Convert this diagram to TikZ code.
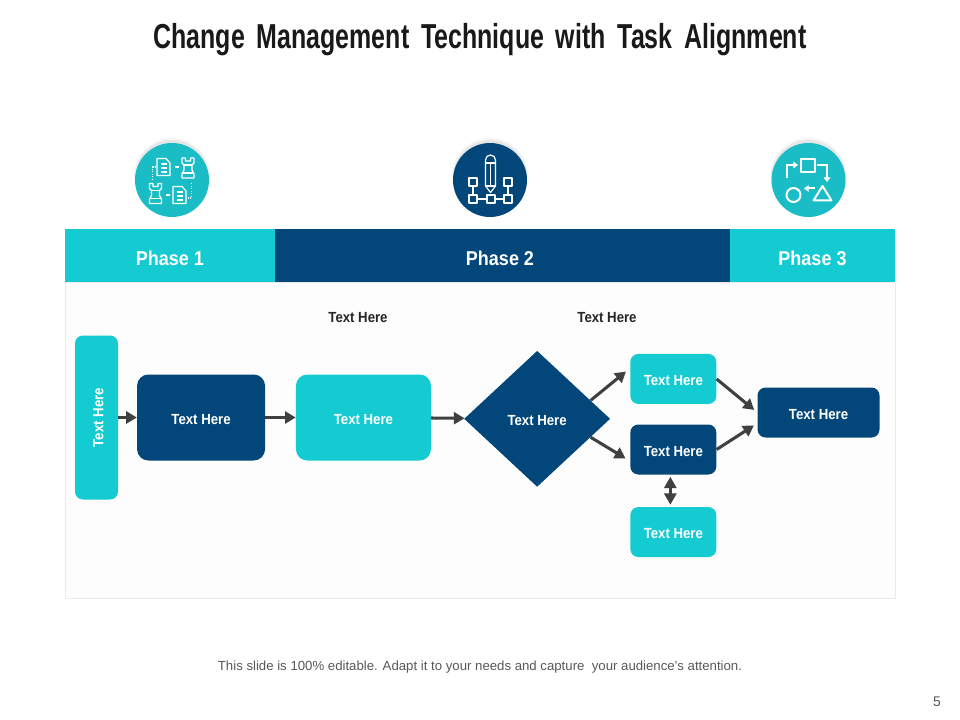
\documentclass[tikz,border=0pt]{standalone}
\usepackage{fontspec}
\setmainfont{Liberation Sans}
\newfontfamily\condfont[FakeStretch=0.9]{Liberation Sans}
\newfontfamily\titlefont[FakeStretch=0.72,WordSpace=1.7]{Liberation Sans}
\usetikzlibrary{positioning,arrows.meta,shapes.geometric,patterns}
\definecolor{phaseteal}{HTML}{13CBD1}
\definecolor{phasenavy}{HTML}{03477A}
\definecolor{iconteal}{HTML}{1ABCC6}
\definecolor{arrowgray}{HTML}{404040}
% one reference pixel is 0.75pt here
\begin{document}
\begin{tikzpicture}[
    x=0.75pt, y=-0.75pt,
    band/.style={
        rectangle, inner sep=0pt, outer sep=0pt, minimum height=39.75pt,
        text height=15.6pt, text depth=0pt,
        text=white, font=\condfont\fontsize{15}{16}\selectfont\bfseries
    },
    tealbox/.style={
        rectangle, fill=phaseteal, rounded corners=6pt, text=white, inner sep=0pt,
        text height=10pt, text depth=0.2pt,
        align=center, font=\condfont\fontsize{11}{12}\selectfont\bfseries
    },
    navybox/.style={tealbox, fill=phasenavy},
    smallbox/.style={minimum width=64.5pt, minimum height=37.5pt},
    bigbox/.style={minimum height=64.5pt, rounded corners=8.5pt},
    caption/.style={font=\condfont\fontsize{11}{12}\selectfont\bfseries, text=black!85},
    arrow/.style={-{Triangle[length=8pt,width=9pt]}, line width=2.3pt, arrowgray},
    bothways/.style={{Triangle[length=8.5pt,width=9pt]}-{Triangle[length=8.5pt,width=9pt]}, line width=2.3pt, arrowgray},
    iconcircle/.style={circle, minimum size=55.5pt, inner sep=0pt},
    iconline/.style={white, line width=0.9pt, line join=round},
    iconfat/.style={white, line width=1.5pt, line join=round},
    iconhead/.style={white, line width=1.5pt, -{Triangle[length=3.5pt,width=5pt]}}
]
\useasboundingbox (0,0) rectangle (960,720);
\fill[white] (0,0) rectangle (960,720);

\node[font=\titlefont\fontsize{26}{28}\selectfont\bfseries, text=black!90] (title) at (480,39.5) {Change Management Technique with Task Alignment};

% panel and phase band
\node[rectangle, draw=black!8, pattern=crosshatch dots, pattern color=black!5, minimum width=622.5pt, minimum height=237pt, inner sep=0pt] (panel) at (480,440) {};
\node[band, fill=phaseteal, minimum width=157.5pt] (phaseone) at (170,255.5) {Phase 1};
\node[band, fill=phasenavy, minimum width=341.25pt, right=0pt of phaseone] (phasetwo) {\hspace*{-3.75pt}Phase 2};
\node[band, fill=phaseteal, minimum width=123.75pt, right=0pt of phasetwo] (phasethree) {Phase 3};

% icon circles
\foreach \cx in {172,490,808.5} {
    \fill[black, opacity=0.04] (\cx,176) circle[radius=38];
    \fill[black, opacity=0.06] (\cx,177) circle[radius=37];
}
\node[iconcircle, fill=iconteal] (iconone) at (172,180) {};
\node[iconcircle, fill=phasenavy] (icontwo) at (490,180) {};
\node[iconcircle, fill=iconteal] (iconthree) at (808.5,180) {};

% icon 1, documents and towers
\foreach \dx/\dy in {163.5/167, 179.5/195} {
    \draw[iconline] (\dx-6.5,\dy-8.5) -- (\dx+2.5,\dy-8.5) -- (\dx+6.5,\dy-4) -- (\dx+6.5,\dy+8.5) -- (\dx-6.5,\dy+8.5) -- cycle;
    \draw[iconline] (\dx-3,\dy-3) -- (\dx+3,\dy-3) (\dx-3,\dy+1) -- (\dx+3,\dy+1) (\dx-3,\dy+5) -- (\dx+3,\dy+5);
}
\foreach \rx/\ry in {188/168, 155.5/193.5} {
    \draw[iconline] (\rx-6,\ry-10) -- (\rx-6,\ry-5) -- (\rx-4,\ry-3) -- (\rx-4,\ry+2) -- (\rx-6,\ry+6) -- (\rx-6,\ry+10) -- (\rx+6,\ry+10) -- (\rx+6,\ry+6) -- (\rx+4,\ry+2) -- (\rx+4,\ry-3) -- (\rx+6,\ry-5) -- (\rx+6,\ry-10) -- (\rx+2.5,\ry-10) -- (\rx+2.5,\ry-7) -- (\rx-2.5,\ry-7) -- (\rx-2.5,\ry-10) -- cycle;
    \draw[iconline] (\rx-4,\ry-3) -- (\rx+4,\ry-3) (\rx-5,\ry+5) -- (\rx+5,\ry+5);
}
\draw[iconline] (175,167) -- (179,167) (165.5,195) -- (170,195);
\draw[iconline, densely dotted] (156,167) -- (152.5,167) -- (152.5,180);
\draw[iconline, densely dotted] (191.5,183) -- (191.5,198) -- (187,198);

% icon 2, pencil over a small tree
\draw[iconline] (485.5,186) -- (485.5,160) arc[start angle=180, end angle=360, radius=5] -- (495.5,186) -- (490.5,192.5) -- cycle;
\draw[iconline] (485.5,163) -- (495.5,163) (490.5,163) -- (490.5,186) (485.5,186) -- (495.5,186);
\foreach \sx/\sy in {473/182, 508/182, 473/199, 491/199, 508/199} {
    \draw[iconline] (\sx-4,\sy-4) rectangle (\sx+4,\sy+4);
}
\draw[iconline] (473,186) -- (473,195) (508,186) -- (508,195) (477,199) -- (487,199) (495,199) -- (504,199);

% icon 3, shapes and arrows
\draw[iconfat] (800.5,159) rectangle (815,172);
\draw[iconhead] (787,178) -- (787,165) -- (798,165);
\draw[iconhead] (817,165) -- (827,165) -- (827,182);
\draw[iconfat] (793.5,195) circle[radius=7];
\draw[iconhead] (815,188.5) -- (804,188.5);
\draw[iconfat] (813.5,200.5) -- (831.5,200.5) -- (822.5,186) -- cycle;

% flow
\node[tealbox, text height=, text depth=, minimum width=32.25pt, minimum height=123pt] (tall) at (96.5,417.5) {\hspace*{3pt}\rotatebox{90}{Text Here}};
\node[navybox, bigbox, minimum width=96pt, right=13.9pt of tall] (plan) {Text Here};
\node[tealbox, bigbox, minimum width=101.25pt, right=22.75pt of plan] (build) {Text Here};
\node[diamond, fill=phasenavy, inner sep=0pt, minimum width=109.5pt, minimum height=102pt, text=white,
    text height=10pt, text depth=0.2pt,
    font=\condfont\fontsize{11}{12}\selectfont\bfseries, right=24.5pt of build, yshift=-1pt] (check) {Text Here};
\node[navybox, smallbox, right=14.75pt of check, yshift=-23pt] (mid) {Text Here};
\node[tealbox, smallbox, above=15pt of mid] (upper) {Text Here};
\node[tealbox, smallbox, below=24pt of mid] (lower) {Text Here};
\node[navybox, minimum width=91.5pt, minimum height=37.5pt, right=30.5pt of mid, yshift=27.75pt] (final) {Text Here};

\node[caption] (capone) at (358,317.7) {Text Here};
\node[caption] (captwo) at (607,317.7) {Text Here};

\draw[arrow] (tall) -- (plan);
\draw[arrow] (plan) -- (build);
\draw[arrow] (build) -- (check);
\draw[arrow, shorten >=4pt] (check.19) -- (upper.166);
\draw[arrow, shorten >=4pt] (check.-19) -- (mid.195);
\draw[arrow, shorten >=3pt] (upper.east) -- (final.west);
\draw[arrow, shorten >=3pt] (mid.east) -- (final.190);
\draw[bothways, shorten >=1.5pt, shorten <=1.5pt] ([xshift=-2.25pt]mid.south) -- ([xshift=-2.25pt]lower.north);

\node[font=\fontsize{9.9}{11}\selectfont, text=black!65] (footer) at (480,667) {This slide is 100\% editable. Adapt it to your needs and capture\ \ your audience's attention.};
\node[font=\fontsize{10.5}{12}\selectfont, text=black!65] (pagenum) at (937,702) {5};
\end{tikzpicture}
\end{document}
